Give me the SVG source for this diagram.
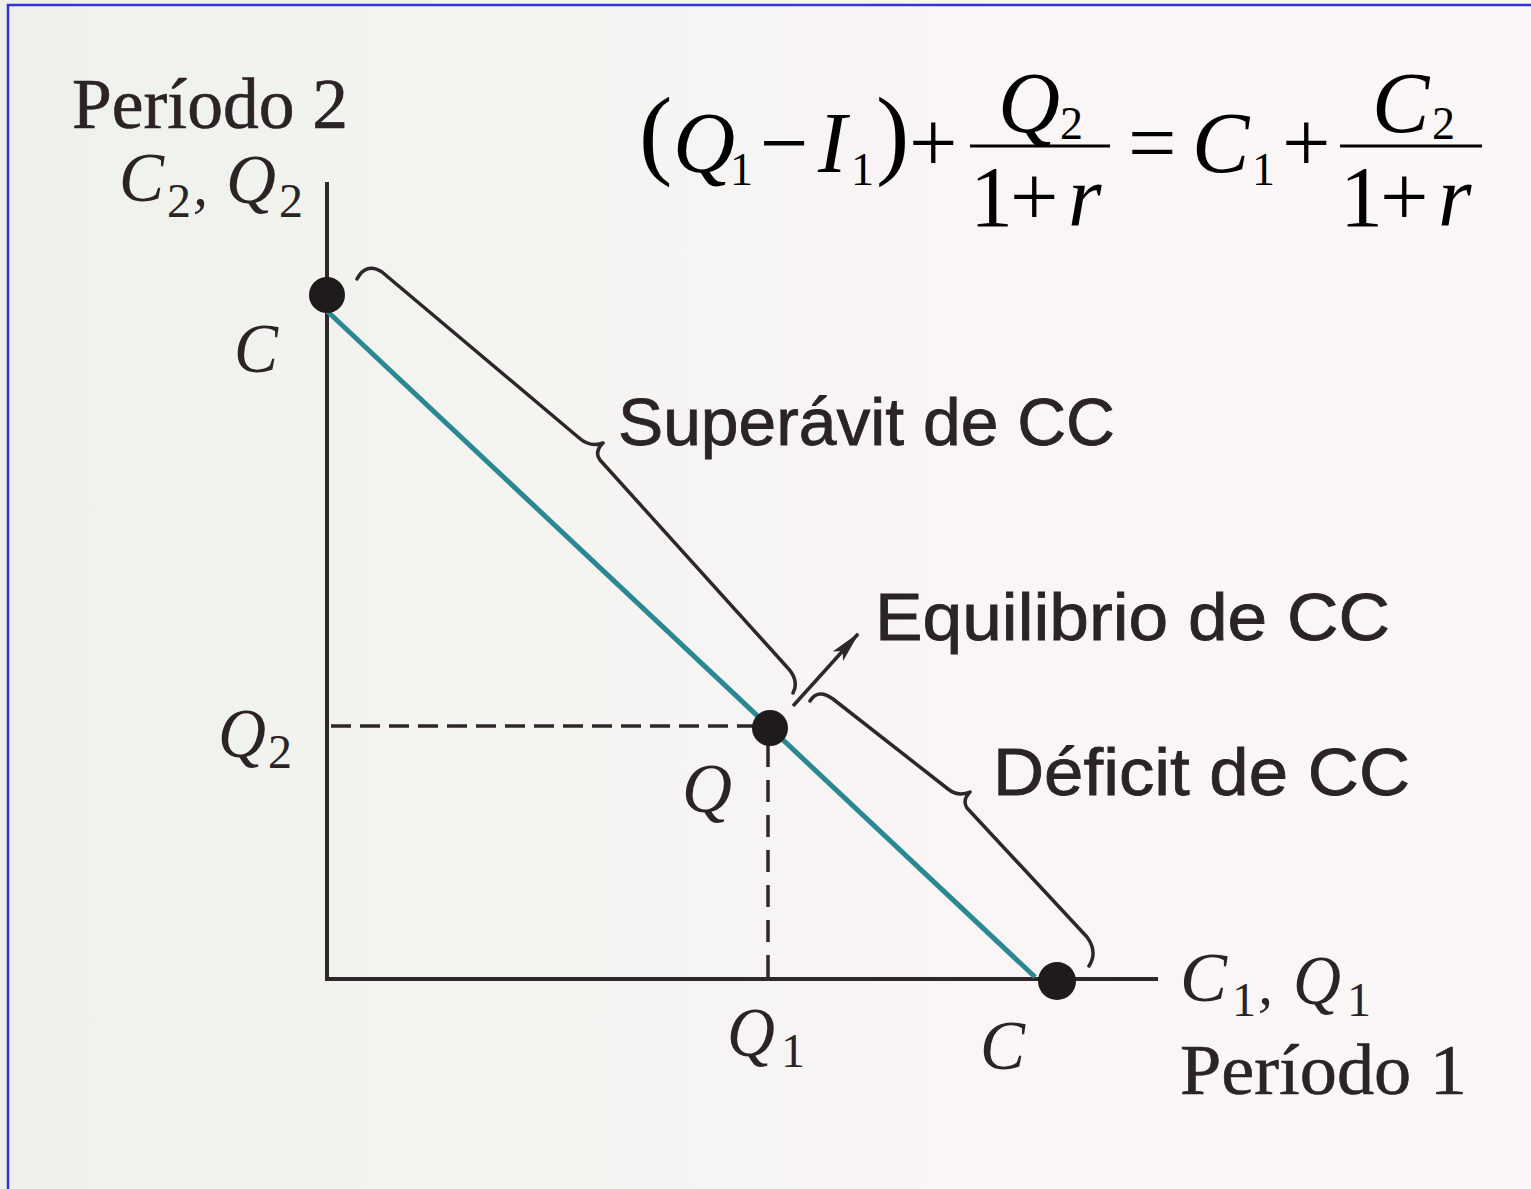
<svg xmlns="http://www.w3.org/2000/svg" width="1531" height="1189" viewBox="0 0 1531 1189">
<style>
.ax{stroke:#2e272a;stroke-width:4;fill:none}
.br{stroke:#2e272a;stroke-width:3.5;fill:none;stroke-linejoin:round;stroke-linecap:round}
.dash{stroke:#2e272a;stroke-width:3.5;fill:none}
.dot{fill:#1f1a1c}
.lab{font-family:"Liberation Serif",serif;fill:#2b2326}
.it{font-style:italic}
.sub{font-style:normal;font-size:48px}
.rm{font-family:"Liberation Serif",serif;fill:#2b2326;stroke:#2b2326;stroke-width:0.6}
.sans{font-family:"Liberation Sans",Arial,sans-serif;fill:#2b2326;font-size:66px;stroke:#2b2326;stroke-width:0.8}
.eq{font-family:"Liberation Serif","Times New Roman",serif;fill:#000;font-size:86px}
.v{font-style:italic}
.es{font-size:46px}
.bp{font-size:100px}
</style>
<defs>
<linearGradient id="bg" x1="0" y1="0" x2="1" y2="0">
<stop offset="0" stop-color="#eef1eb"/>
<stop offset="0.5" stop-color="#f7f5f3"/>
<stop offset="1" stop-color="#fcf7f7"/>
</linearGradient>
<marker id="ahb" markerWidth="32" markerHeight="16" refX="30" refY="8" orient="auto" markerUnits="userSpaceOnUse" viewBox="0 0 32 16">
<path d="M0,1 L32,8 L0,15 L7,8 Z" fill="#2e272a"/>
</marker>
</defs>
<rect x="0" y="0" width="1531" height="1189" fill="url(#bg)"/>
<rect x="8" y="5" width="1560" height="1220" fill="none" stroke="#3535d0" stroke-width="2.5"/>

<g id="axes">
<line class="ax" x1="327" y1="182" x2="327" y2="981"/>
<line class="ax" x1="325" y1="979" x2="1158" y2="979"/>
</g>

<g id="budget-line">
<line x1="326" y1="310" x2="1035" y2="977" stroke="#2a8793" stroke-width="5"/>
</g>

<g id="connectors">
<line class="dash" x1="331" y1="726" x2="758" y2="726" stroke-dasharray="20 9"/>
<line class="dash" x1="768" y1="745" x2="768" y2="977" stroke-dasharray="22 13"/>
<line x1="793" y1="706" x2="858" y2="634" stroke="#2e272a" stroke-width="3.5" marker-end="url(#ahb)"/>
</g>

<g id="brace-superavit">
<path class="br" d="M357,279 Q366,262 382,272 L578,437 Q590,448 603,443 M603,443 Q594,452 600,460 L786,666 Q800,680 793,693"/>
</g>
<g id="brace-deficit">
<path class="br" d="M810,701 Q818,688 833,699 L948,789 Q958,797 970,792 M970,792 Q962,800 967,808 L1087,937 Q1098,952 1089,966"/>
</g>

<g id="point-top"><circle class="dot" cx="327" cy="295" r="18"/></g>
<g id="point-Q"><circle class="dot" cx="770" cy="728" r="18"/></g>
<g id="point-bottom"><circle class="dot" cx="1057" cy="981" r="19"/></g>

<g id="labels">
<text class="rm" x="72" y="128" font-size="72" textLength="276" lengthAdjust="spacingAndGlyphs">Período 2</text>
<text class="lab" font-size="70"><tspan class="it" x="119" y="201" textLength="45" lengthAdjust="spacingAndGlyphs">C</tspan><tspan class="sub" x="167" y="217">2</tspan><tspan class="it" x="193" y="205" font-size="60">,</tspan><tspan class="it" x="226" y="203" textLength="50" lengthAdjust="spacingAndGlyphs">Q</tspan><tspan class="sub" x="279" y="217">2</tspan></text>
<text class="lab it" x="234" y="372" font-size="70" textLength="44" lengthAdjust="spacingAndGlyphs">C</text>
<text class="lab" font-size="70"><tspan class="it" x="218" y="757" textLength="48" lengthAdjust="spacingAndGlyphs">Q</tspan><tspan class="sub" x="268" y="768">2</tspan></text>
<text class="lab it" x="682" y="812" font-size="70" textLength="50" lengthAdjust="spacingAndGlyphs">Q</text>
<text class="lab" font-size="70"><tspan class="it" x="727" y="1056" textLength="48" lengthAdjust="spacingAndGlyphs">Q</tspan><tspan class="sub" x="781" y="1067">1</tspan></text>
<text class="lab it" x="980" y="1069" font-size="70" textLength="45" lengthAdjust="spacingAndGlyphs">C</text>
<text class="lab" font-size="70"><tspan class="it" x="1180" y="1001" textLength="47" lengthAdjust="spacingAndGlyphs">C</tspan><tspan class="sub" x="1232" y="1016">1</tspan><tspan class="it" x="1258" y="1004" font-size="60">,</tspan><tspan class="it" x="1293" y="1004" textLength="48" lengthAdjust="spacingAndGlyphs">Q</tspan><tspan class="sub" x="1347" y="1016">1</tspan></text>
<text class="rm" x="1180" y="1094" font-size="72" textLength="287" lengthAdjust="spacingAndGlyphs">Período 1</text>
<text class="sans" x="618" y="445" textLength="497" lengthAdjust="spacingAndGlyphs">Superávit de CC</text>
<text class="sans" x="875" y="640" textLength="515" lengthAdjust="spacingAndGlyphs">Equilibrio de CC</text>
<text class="sans" x="993" y="795" textLength="417" lengthAdjust="spacingAndGlyphs">Déficit de CC</text>
</g>

<g id="equation">
<text class="eq"><tspan class="bp" x="639" y="166">(</tspan><tspan class="v" x="673" y="172">Q</tspan><tspan class="es" x="730" y="185">1</tspan><tspan x="760" y="172">−</tspan><tspan class="v" x="818" y="172">I</tspan><tspan class="es" x="851" y="185">1</tspan><tspan class="bp" x="876" y="166">)</tspan><tspan x="909" y="172">+</tspan></text>
<line x1="970" y1="146" x2="1110" y2="146" stroke="#000" stroke-width="3"/>
<text class="eq"><tspan class="v" x="998" y="132">Q</tspan><tspan class="es" x="1060" y="139">2</tspan></text>
<text class="eq"><tspan x="970" y="226">1</tspan><tspan x="1010" y="226">+</tspan><tspan class="v" x="1068" y="226">r</tspan></text>
<text class="eq"><tspan x="1128" y="172">=</tspan><tspan class="v" x="1192" y="172">C</tspan><tspan class="es" x="1252" y="185">1</tspan><tspan x="1282" y="172">+</tspan></text>
<line x1="1340" y1="146" x2="1482" y2="146" stroke="#000" stroke-width="3"/>
<text class="eq"><tspan class="v" x="1372" y="132">C</tspan><tspan class="es" x="1432" y="139">2</tspan></text>
<text class="eq"><tspan x="1340" y="226">1</tspan><tspan x="1380" y="226">+</tspan><tspan class="v" x="1438" y="226">r</tspan></text>
</g>
</svg>
